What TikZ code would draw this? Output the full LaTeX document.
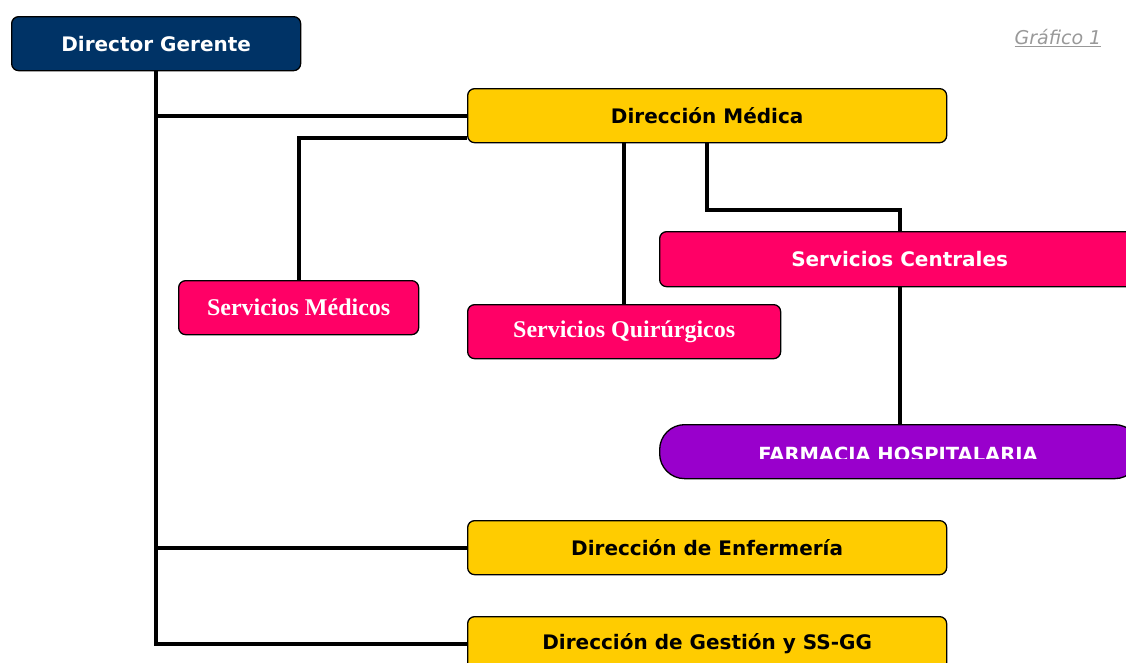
\documentclass[tikz,border=0pt]{standalone}
\usepackage{fontspec}
\setmainfont{DejaVu Sans}
\newfontfamily\timesf{Liberation Serif}
\usetikzlibrary{calc,backgrounds}
\definecolor{navy}{HTML}{003366}
\definecolor{gold}{HTML}{FFCC00}
\definecolor{rosa}{HTML}{FF0066}
\definecolor{purp}{HTML}{9900CC}
\definecolor{grisg}{HTML}{999999}
\begin{document}
\begin{tikzpicture}[x=1pt,y=-1pt,
  box/.style={draw=black, line width=1.3pt, rounded corners=7pt, inner sep=0pt,
    anchor=north west, font=\bfseries\fontsize{20}{24}\selectfont},
  yel/.style={box, fill=gold, text=black, minimum width=479pt, minimum height=54pt},
  pinkbox/.style={box, fill=rosa, text=white},
  serif/.style={font=\timesf\bfseries\fontsize{24}{28}\selectfont},
  conn/.style={draw=black, line width=4pt}]
\useasboundingbox (0,0) rectangle (1126,662);
\begin{scope}
\clip (0,0) rectangle (1126,662);
\node[box, fill=navy, text=white, minimum width=289pt, minimum height=54pt] (dg) at (11,16) {Director Gerente};
\node[font=\itshape\fontsize{19}{22}\selectfont, text=grisg] (gr) at (1058,38) {\underline{Gráfico 1}};
\node[yel] (dm) at (467,88) {Dirección Médica};
\node[pinkbox, serif, minimum width=240pt, minimum height=54pt] (sm) at (178,280) {Servicios Médicos};
\node[pinkbox, serif, minimum width=313pt, minimum height=54pt] (sq) at (467,304) {Servicios Quirúrgicos};
\node[pinkbox, minimum width=480pt, minimum height=55pt] (sc) at (659,231) {Servicios Centrales};
\node[box, fill=purp, rounded corners=25pt, minimum width=480pt, minimum height=54pt] (fa) at (659,424) {};
\begin{scope}
\clip (600,420) rectangle (1126,458);
\node[anchor=base, text=white, font=\bfseries\fontsize{19.5}{23}\selectfont] (fat) at (898,461) {FARMACIA HOSPITALARIA};
\end{scope}
\node[yel] (de) at (467,520) {Dirección de Enfermería};
\node[yel] (dgs) at (467,616) {Dirección de Gestión y SS-GG};
\end{scope}
\coordinate (dmL) at ($(dm.south west)+(0,-5)$);
\coordinate (dmR) at ($(dm.south west)+(240,0)$);
\begin{pgfonlayer}{background}
\draw[conn] (dg.south) -- (dg.south |- dgs.west) -- (dgs.west);
\draw[conn] (dg.south |- dm.west) -- (dm.west);
\draw[conn] (dg.south |- de.west) -- (de.west);
\draw[conn] (sm.north) |- (dmL);
\draw[conn] (sq.north) -- (sq.north |- dm.south);
\draw[conn] (dmR) -- ++(0,67) -| (sc.north);
\draw[conn] (sc.south) -- (fa.north);
\end{pgfonlayer}
\end{tikzpicture}
\end{document}
